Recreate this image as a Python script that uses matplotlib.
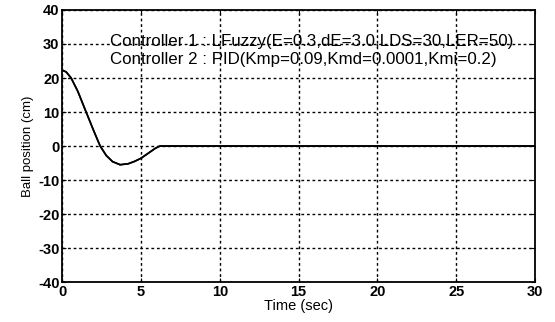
import numpy as np
import matplotlib.pyplot as plt

plt.rcParams['font.family'] = ['Liberation Sans', 'DejaVu Sans']
plt.rcParams['axes.unicode_minus'] = False

# ball position (both controllers overlap)
t = [0, 0.25, 0.57, 1.0, 1.52, 2.0, 2.41, 2.8, 3.2, 3.68, 4.2, 4.6, 5.0, 5.5, 5.9, 6.2, 7.0, 30]
pos1 = [22.3, 21.8, 20.0, 16.0, 10.0, 4.5, 0.0, -2.8, -4.6, -5.5, -5.2, -4.5, -3.6, -2.0, -0.7, 0.0, 0.0, 0.0]
pos2 = [22.3, 21.8, 20.0, 16.0, 10.0, 4.5, 0.0, -2.8, -4.6, -5.5, -5.2, -4.5, -3.6, -2.0, -0.7, 0.0, 0.0, 0.0]

xticks = [0, 5, 10, 15, 20, 25, 30]
yticks = [-40, -30, -20, -10, 0, 10, 20, 30, 40]
line1 = "Controller 1 : LFuzzy(E=0.3,dE=3.0,LDS=30,LER=50)"
line2 = "Controller 2 : PID(Kmp=0.09,Kmd=0.0001,Kmi=0.2)"

fig = plt.figure(figsize=(5.55, 3.22), dpi=100)
ax = fig.add_axes([0.112, 0.124, 0.852, 0.845])

ax.plot(t, pos1, color='black', linewidth=1.2)
ax.plot(t, pos2, color='black', linewidth=1.2)

ax.set_xlim(0, 30)
ax.set_ylim(-40, 40)
ax.set_xticks(xticks)
ax.set_yticks(yticks)
ax.grid(True, color='black', linestyle=(0, (2, 2)), linewidth=1.0)
ax.tick_params(direction='in', length=3, labelsize=10.5, pad=2, top=True, right=True)
for lab in ax.get_xticklabels() + ax.get_yticklabels():
    lab.set_fontweight('bold')
for s in ax.spines.values():
    s.set_linewidth(1.3)

ax.text(3.05, 30.7, line1, fontsize=12.2, va='center', ha='left')
ax.text(3.05, 25.4, line2, fontsize=12.2, va='center', ha='left')

ax.set_xlabel("Time (sec)", fontsize=10.5, labelpad=0)
ax.set_ylabel("Ball position (cm)", fontsize=9.5, labelpad=3)

fig.savefig("out.png", dpi=100)
